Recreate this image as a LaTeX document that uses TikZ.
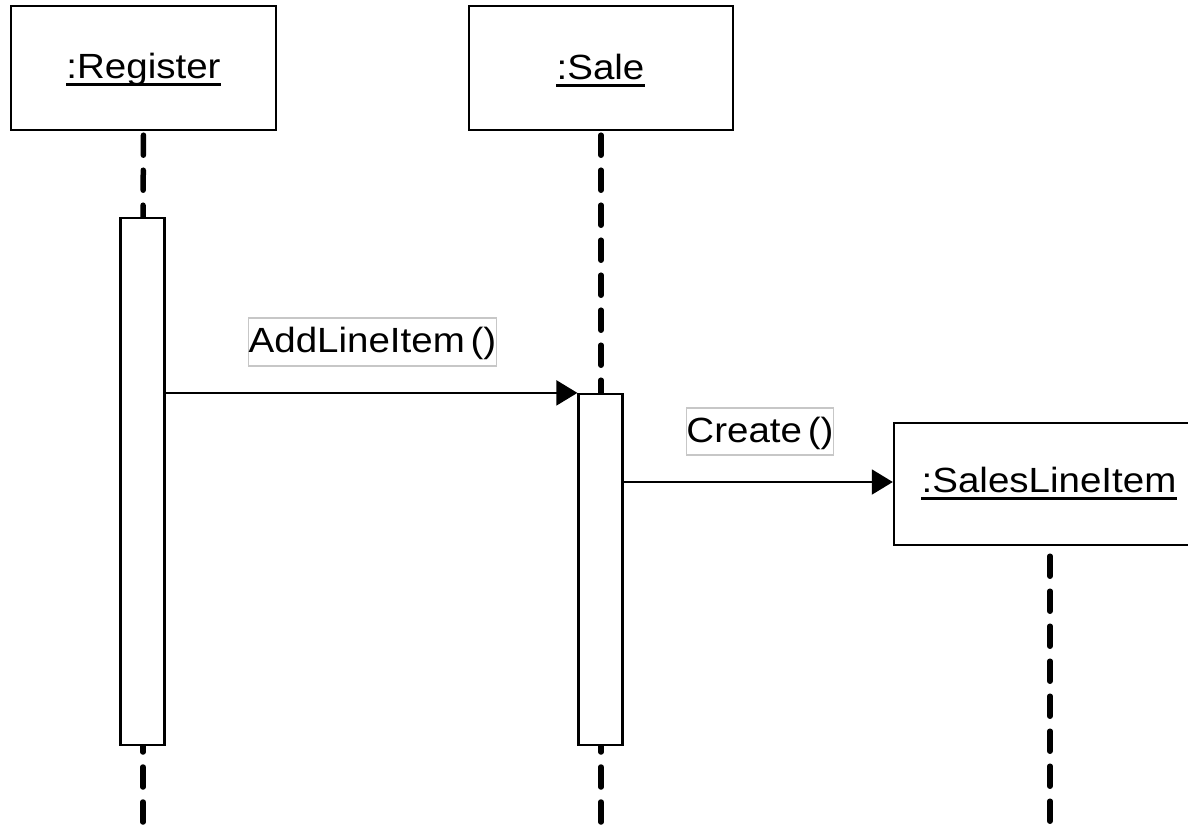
\documentclass[tikz,border=0pt]{standalone}
\usepackage{fontspec}
\setmainfont{Liberation Sans}[FakeStretch=1.1]
\usetikzlibrary{arrows.meta}

\tikzset{
  objbox/.style={draw, line width=2.4pt, fill=white, inner sep=0pt},
  objname/.style={inner sep=0pt, anchor=base, font=\fontsize{35}{42}\selectfont},
  nameline/.style={line width=3pt},
  actbox/.style={draw, line width=2.2pt, fill=white, inner sep=0pt, minimum width=44pt},
  lifeline/.style={line width=5.5pt, line cap=round, dash pattern=on 20pt off 15pt},
  msg/.style={line width=2pt, -{Triangle[length=21pt,width=25pt]}},
  msglabel/.style={draw=black!22, line width=1.2pt, fill=white, inner sep=0pt,
    anchor=base, text height=34pt, font=\fontsize{35}{42}\selectfont}
}

\begin{document}
\begin{tikzpicture}[x=1pt,y=-1pt]
  \clip (0,0) rectangle (1188,825);
  \fill[white] (0,0) rectangle (1188,825);

  % object boxes
  \node[objbox, minimum width=265pt, minimum height=124pt] (reg) at (143.5,68) {};
  \node[objbox, minimum width=264pt, minimum height=124pt] (sale) at (601,68) {};
  \node[objbox, minimum width=310pt, minimum height=122pt] (sli) at (1049,484) {};

  % object names, underlined
  \node[objname] (regname) at (143.5,78) {:Register};
  \node[objname] (salename) at (600.5,79) {:Sale};
  \node[objname] (sliname) at (1049,492) {:SalesLineItem};
  \draw[nameline] ([yshift=-6pt]regname.base west) -- ([yshift=-6pt]regname.base east);
  \draw[nameline] ([yshift=-6pt]salename.base west) -- ([yshift=-6pt]salename.base east);
  \draw[nameline] ([yshift=-6pt]sliname.base west) -- ([yshift=-6pt]sliname.base east);

  % lifeline ends below the picture
  \coordinate (regend) at (143,840);
  \coordinate (saleend) at (601,840);
  \coordinate (sliend) at (1050,840);

  % activation bars (positions only, drawn after the lifelines)
  \coordinate (regacttop) at (143,218);
  \coordinate (regactbot) at (143,745);
  \coordinate (saleacttop) at (601,394);
  \coordinate (saleactbot) at (601,745);

  % lifelines
  \draw[lifeline, dash phase=31pt] (reg.south) -- (regacttop);
  \draw[lifeline, dash phase=13pt] (regactbot) -- (regend);
  \draw[lifeline, dash phase=31pt] (sale.south) -- (saleacttop);
  \draw[lifeline, dash phase=13pt] (saleactbot) -- (saleend);
  \draw[lifeline, dash phase=25pt] (sli.south -| sliend) -- (sliend);

  \node[actbox, minimum height=527pt] (regact) at (142.5,481.5) {};
  \node[actbox, minimum height=351pt] (saleact) at (600.5,569.5) {};

  % messages
  \draw[msg] (regact.east |- saleact.north) -- (saleact.north west);
  \coordinate (createy) at (0,482);
  \draw[msg] (saleact.east |- createy) -- (sli.west |- createy);

  % message labels
  \node[msglabel, minimum width=247pt, text depth=14pt] (addlbl) at (372.5,352) {AddLineItem\,()};
  \node[msglabel, minimum width=144pt, text depth=13pt] (createlbl) at (760,442) {Create\,()};
\end{tikzpicture}
\end{document}
